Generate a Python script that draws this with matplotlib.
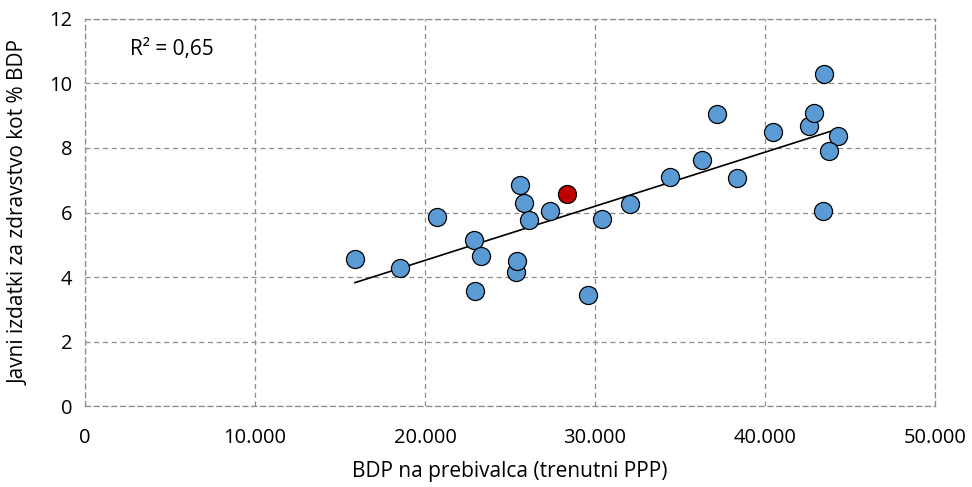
import matplotlib.pyplot as plt
import matplotlib.ticker as mticker
import numpy as np

plt.rcParams["font.family"] = ["Open Sans", "DejaVu Sans"]

# BDP na prebivalca (PPP) and javni izdatki za zdravstvo (% BDP)
gdp = [15880, 18530, 20700, 22880, 22940, 23290, 25350, 25400, 25590, 25840,
       26140, 27350, 30390, 29570, 32060, 34410, 36310, 37190, 38370, 40470,
       42610, 42860, 43490, 44290, 43740, 43390]
health = [4.56, 4.28, 5.86, 5.15, 3.57, 4.65, 4.16, 4.50, 6.85, 6.30,
          5.77, 6.06, 5.79, 3.44, 6.26, 7.11, 7.63, 9.04, 7.08, 8.49,
          8.67, 9.07, 10.29, 8.37, 7.92, 6.05]

# Slovenija
svn_gdp = [28370]
svn_health = [6.57]

xticks = [0, 10000, 20000, 30000, 40000, 50000]
yticks = [0, 2, 4, 6, 8, 10, 12]

fig = plt.figure(figsize=(9.72, 4.87), dpi=100)
ax = fig.add_axes([0.0874, 0.1663, 0.8745, 0.7947])

all_x = np.array(gdp + svn_gdp)
all_y = np.array(health + svn_health)
k, n = np.polyfit(all_x, all_y, 1)
xs = np.array([all_x.min(), all_x.max()])
ax.plot(xs, k * xs + n, color="black", lw=1.2, zorder=2)

ax.plot(gdp, health, "o", ms=13, mfc="#5B9BD5", mec="black", mew=0.9, zorder=3)
ax.plot(svn_gdp, svn_health, "o", ms=13, mfc="#C00000", mec="black", mew=0.9, zorder=4)

ax.set_xlim(0, 50000)
ax.set_ylim(0, 12)
ax.set_xticks(xticks)
ax.set_yticks(yticks)
ax.xaxis.set_major_formatter(
    mticker.FuncFormatter(lambda v, p: f"{int(v):,}".replace(",", "."))
)
ax.tick_params(length=0, labelsize=14.5)
ax.tick_params(axis="x", pad=16)
ax.tick_params(axis="y", pad=9)

ax.grid(True, ls=(0, (4, 3)), color="#8C8C8C", lw=0.9)
ax.set_axisbelow(True)
for s in ax.spines.values():
    s.set_linestyle((0, (4, 3)))
    s.set_color("#8C8C8C")
    s.set_linewidth(0.9)

ax.set_xlabel("BDP na prebivalca (trenutni PPP)", fontsize=15, labelpad=9)
ax.set_ylabel("Javni izdatki za zdravstvo kot % BDP", fontsize=15, labelpad=14)

ax.text(0.053, 0.92, "R² = 0,65", transform=ax.transAxes, fontsize=15,
        va="center", ha="left")

fig.savefig("out.png", dpi=100)
